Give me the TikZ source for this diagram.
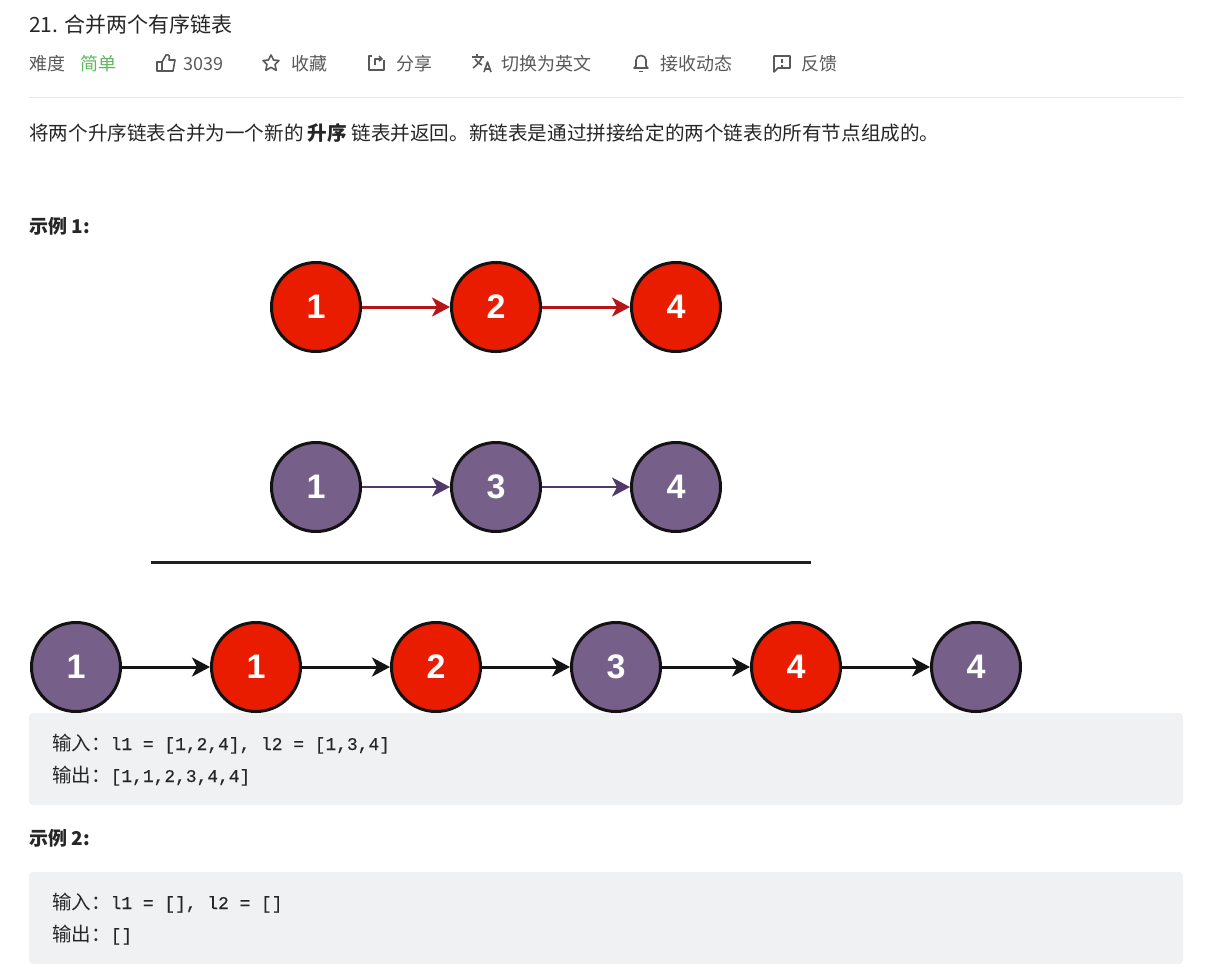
\documentclass[tikz,border=0pt]{standalone}
\usepackage{fontspec}
\setmainfont{Noto Sans CJK SC}
\newfontfamily\codefont[FakeBold=0.25]{Liberation Mono}
\newfontfamily\digitfont{Liberation Sans}
\usetikzlibrary{arrows.meta}
\definecolor{listred}{HTML}{EA1C00}
\definecolor{listpurple}{HTML}{76608A}
\definecolor{arrowred}{HTML}{B5161A}
\definecolor{arrowpurple}{HTML}{4F3A6B}
\definecolor{inkdark}{HTML}{262626}
\definecolor{inkgray}{HTML}{595959}
\definecolor{easygreen}{HTML}{5CB85C}
\definecolor{rulegray}{HTML}{E8E8E8}
\definecolor{codebg}{HTML}{F0F1F3}

\begin{document}
\begin{tikzpicture}[
    x=1pt, y=-1pt,
    listnode/.style={circle, draw=black!93, line width=3pt, minimum size=89pt, inner sep=0pt,
                     text=white, font=\digitfont\bfseries\fontsize{34}{34}\selectfont},
    rednode/.style={listnode, fill=listred},
    purplenode/.style={listnode, fill=listpurple},
    arr/.style={-{Stealth[length=18pt, width=19pt, inset=5pt]}, line width=3pt},
    arrred/.style={arr, draw=arrowred},
    arrpurple/.style={arr, draw=arrowpurple, line width=2.6pt},
    arrblack/.style={arr, draw=black!92},
    titletxt/.style={anchor=base west, inner sep=0pt, text=inkdark, font=\fontsize{21}{25}\selectfont},
    bartxt/.style={anchor=base west, inner sep=0pt, text=inkgray, font=\fontsize{18}{22}\selectfont},
    bodytxt/.style={anchor=base west, inner sep=0pt, text=inkdark, font=\fontsize{19.6}{24}\selectfont},
    headtxt/.style={anchor=base west, inner sep=0pt, text=inkdark, font=\bfseries\fontsize{19}{23}\selectfont},
    codetxt/.style={anchor=base west, inner sep=0pt, text=inkdark, font=\fontsize{19.5}{24}\selectfont},
    codebox/.style={fill=codebg, rounded corners=4pt},
    icon/.style={draw=inkgray, line width=1.6pt, line join=round}
]
    \useasboundingbox (0,0) rectangle (1210,970);

    \node[titletxt] (title) at (29,32) {21. 合并两个有序链表};
    \node[bartxt] (level)  at (29,70)  {难度};
    \node[bartxt, text=easygreen] (easy) at (80,70) {简单};
    \node[bartxt] (likes)  at (183,70) {3039};
    \node[bartxt] (star)   at (291,70) {收藏};
    \node[bartxt] (share)  at (396,70) {分享};
    \node[bartxt] (lang)   at (501,70) {切换为英文};
    \node[bartxt] (follow) at (660,70) {接收动态};
    \node[bartxt] (report) at (801,70) {反馈};

    \draw[icon] (157,62) rectangle (162,71);
    \draw[icon] (162,62) -- (166,55) .. controls (169,54) and (170,56) .. (169,60) -- (175,60) -- (173,71) -- (162,71);
    \draw[icon] (271,55) -- (273.6,60) -- (279,60.6) -- (275,64.4) -- (276.2,70.3) -- (271,67.4)
        -- (265.8,70.3) -- (267,64.4) -- (263,60.6) -- (268.4,60) -- cycle;
    \draw[icon] (372,56) -- (369,56) -- (369,70) -- (384,70) -- (384,60);
    \draw[icon] (375,65) -- (375,59) -- (381,59);
    \draw[icon] (379,56) -- (382,59) -- (379,61);
    \draw[icon] (472,57) -- (484,57);
    \draw[icon] (477,54) -- (477,57);
    \draw[icon] (482,57) .. controls (480,62) and (477,65) .. (473,68);
    \draw[icon] (475,59) .. controls (477,62) and (479,64) .. (482,65);
    \draw[icon] (484,72) -- (487.5,62) -- (491,72);
    \draw[icon] (485,69) -- (490,69);
    \draw[icon] (634,68) -- (636,66) -- (636,60) .. controls (636,54) and (646,54) .. (646,60) -- (646,66) -- (648,68) -- cycle;
    \draw[icon] (639,71.5) -- (643,71.5);
    \draw[icon] (774,56) -- (790,56) -- (790,68) -- (778,68) -- (774,72) -- cycle;
    \draw[icon] (782,59) -- (782,63);
    \draw[icon] (782,65) -- (782,66.5);

    \draw[rulegray, line width=1pt] (29,97.5) -- (1183,97.5);

    \node[bodytxt] (desc) at (29,140) {将两个升序链表合并为一个新的 \textbf{升序} 链表并返回。新链表是通过拼接给定的两个链表的所有节点组成的。};
    \node[headtxt] (ex1) at (29,233) {示例 1:};

    \node[rednode] (a1) at (316,307) {1};
    \node[rednode] (a2) at (496,307) {2};
    \node[rednode] (a3) at (676,307) {4};
    \draw[arrred] (a1) -- (a2);
    \draw[arrred] (a2) -- (a3);

    \node[purplenode] (b1) at (316,487) {1};
    \node[purplenode] (b2) at (496,487) {3};
    \node[purplenode] (b3) at (676,487) {4};
    \draw[arrpurple] (b1) -- (b2);
    \draw[arrpurple] (b2) -- (b3);

    \draw[black!88, line width=3pt] (151,562) -- (811,562);

    \node[purplenode] (c1) at (76,667)  {1};
    \node[rednode]    (c2) at (256,667) {1};
    \node[rednode]    (c3) at (436,667) {2};
    \node[purplenode] (c4) at (616,667) {3};
    \node[rednode]    (c5) at (796,667) {4};
    \node[purplenode] (c6) at (976,667) {4};
    \draw[arrblack] (c1) -- (c2);
    \draw[arrblack] (c2) -- (c3);
    \draw[arrblack] (c3) -- (c4);
    \draw[arrblack] (c4) -- (c5);
    \draw[arrblack] (c5) -- (c6);

    \fill[codebox] (29,713) rectangle (1183,805);
    \node[codetxt] (in1)  at (52,750) {输入：{\codefont\fontsize{17.9}{24}\selectfont l1 = [1,2,4], l2 = [1,3,4]}};
    \node[codetxt] (out1) at (52,782) {输出：{\codefont\fontsize{17.9}{24}\selectfont [1,1,2,3,4,4]}};
    \node[headtxt] (ex2) at (29,845) {示例 2:};
    \fill[codebox] (29,872) rectangle (1183,964);
    \node[codetxt] (in2)  at (52,909) {输入：{\codefont\fontsize{17.9}{24}\selectfont l1 = [], l2 = []}};
    \node[codetxt] (out2) at (52,941) {输出：{\codefont\fontsize{17.9}{24}\selectfont []}};
\end{tikzpicture}
\end{document}
